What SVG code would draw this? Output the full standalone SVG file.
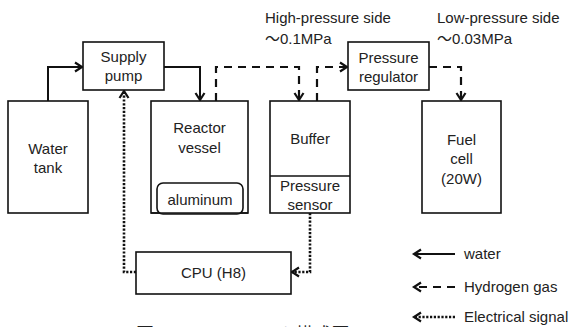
<svg xmlns="http://www.w3.org/2000/svg" width="569" height="327" viewBox="0 0 569 327">
<style>
.box{fill:#fff;stroke:#111;stroke-width:1.6}
.t{font-family:"Liberation Sans",Arial,sans-serif;font-size:15px;fill:#222}
.c{text-anchor:middle}
.j{font-family:"Noto Sans CJK JP","Liberation Sans",sans-serif}
.w{fill:none;stroke:#111;stroke-width:2}
.h{fill:none;stroke:#111;stroke-width:2.2;stroke-dasharray:8 6}
.e{fill:none;stroke:#111;stroke-width:2.6;stroke-dasharray:2.2 1.6}
.cap{font-family:"Noto Sans CJK JP","Noto Sans",sans-serif;font-size:18px;fill:#222}
</style>
<defs>
<marker id="ah" markerWidth="12" markerHeight="12" refX="9" refY="6" orient="auto" markerUnits="userSpaceOnUse">
<path d="M2,1.5 L9,6 L2,10.5" fill="none" stroke="#111" stroke-width="2.2"/>
</marker>
</defs>
<g id="connectors">
<path class="w" d="M48,101 V67 H82" marker-end="url(#ah)"/>
<path class="w" d="M164,67 H200 V100" marker-end="url(#ah)"/>
<path class="h" d="M216,101 V67 H299 V100" marker-end="url(#ah)"/>
<path class="h" d="M317,101 V67 H347" marker-end="url(#ah)"/>
<path class="h" d="M429,67 H461 V100" marker-end="url(#ah)"/>
<path class="e" d="M136,272 H124 V91" marker-end="url(#ah)"/>
<path class="e" d="M310,213 V272 H292" marker-end="url(#ah)"/>
</g>
<g id="water-tank">
<rect class="box" x="8" y="101" width="80" height="112"/>
<text class="t c" x="48" y="154">Water</text>
<text class="t c" x="48" y="173">tank</text>
</g>
<g id="supply-pump">
<rect class="box" x="83" y="42" width="81" height="48"/>
<text class="t c" x="123.5" y="62">Supply</text>
<text class="t c" x="123.5" y="81">pump</text>
</g>
<g id="reactor-vessel">
<rect class="box" x="151" y="101" width="97" height="112"/>
<text class="t c" x="199.5" y="133">Reactor</text>
<text class="t c" x="199.5" y="153">vessel</text>
<rect class="box" x="157" y="183" width="86" height="31" rx="6"/>
<line x1="151" y1="213" x2="248" y2="213" stroke="#111" stroke-width="1.6"/>
<text class="t c" x="200" y="205">aluminum</text>
</g>
<g id="buffer">
<rect class="box" x="270" y="101" width="80" height="112"/>
<line x1="270" y1="176" x2="350" y2="176" stroke="#111" stroke-width="1.6"/>
<text class="t c" x="310" y="144">Buffer</text>
<text class="t c" x="310" y="191">Pressure</text>
<text class="t c" x="310" y="210">sensor</text>
</g>
<g id="pressure-regulator">
<rect class="box" x="348" y="42" width="81" height="48"/>
<text class="t c" x="388.5" y="63">Pressure</text>
<text class="t c" x="388.5" y="82">regulator</text>
</g>
<g id="fuel-cell">
<rect class="box" x="422" y="101" width="79" height="112"/>
<text class="t c" x="461.5" y="145">Fuel</text>
<text class="t c" x="461.5" y="164">cell</text>
<text class="t c" x="461.5" y="184">(20W)</text>
</g>
<g id="cpu">
<rect class="box" x="136" y="252" width="155" height="42"/>
<text class="t c" x="213.5" y="278">CPU (H8)</text>
</g>
<g id="labels">
<text class="t" x="265" y="23">High-pressure side</text>
<text class="t" x="265" y="44"><tspan class="j">～</tspan>0.1MPa</text>
<text class="t" x="437" y="23">Low-pressure side</text>
<text class="t" x="437" y="44"><tspan class="j">～</tspan>0.03MPa</text>
</g>
<g id="legend">
<path class="w" d="M455,254 H414" marker-end="url(#ah)"/>
<path class="h" d="M455,287 H414" marker-end="url(#ah)"/>
<path class="e" d="M455,317 H414" marker-end="url(#ah)"/>
<text class="t" x="464" y="259">water</text>
<text class="t" x="464" y="292">Hydrogen gas</text>
<text class="t" x="464" y="322">Electrical signal</text>
</g>
<g id="caption">
<text class="cap" x="136" y="341">図</text>
<text class="cap" x="224" y="341">システム構成図</text>
</g>
</svg>
